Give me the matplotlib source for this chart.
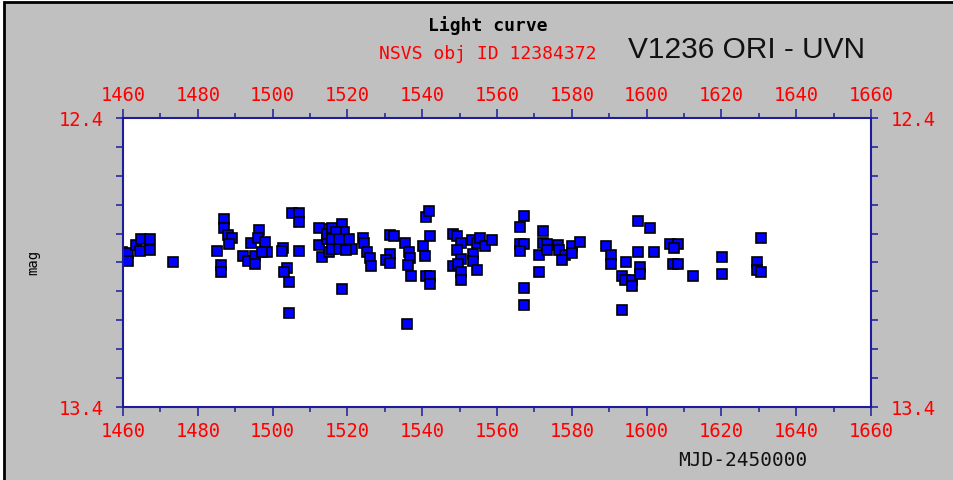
import matplotlib.pyplot as plt
from matplotlib.patches import Rectangle
from matplotlib.ticker import MultipleLocator, FixedLocator

mjd = [1459.8, 1461.3, 1461.3, 1463.5, 1464.8, 1464.5, 1467.2, 1467.2, 1473.4,
       1485.1, 1486.2, 1486.2, 1487.0, 1487.0, 1488.1, 1489.1, 1488.3,
       1496.4, 1494.2, 1496.1, 1498.0, 1498.5, 1492.1, 1493.4, 1495.3, 1495.3, 1497.2,
       1502.8, 1502.5, 1507.1, 1503.9, 1503.0, 1504.4, 1504.4, 1505.2, 1507.1, 1507.1,
       1512.4, 1515.1, 1512.4, 1514.5, 1513.2, 1515.1, 1514.5, 1515.9, 1518.6, 1519.1,
       1517.0, 1515.9, 1517.8, 1520.4, 1515.9, 1517.8, 1521.2, 1519.6,
       1524.2, 1524.4, 1525.2, 1526.0, 1526.3, 1518.6,
       1531.4, 1532.5, 1531.4, 1530.3, 1531.4,
       1535.4, 1536.5, 1536.7, 1536.2, 1537.0, 1535.9,
       1541.0, 1541.8, 1542.1, 1540.2, 1540.7, 1541.0, 1542.1, 1542.1,
       1548.2, 1549.3, 1550.4, 1549.3, 1550.4, 1548.2, 1549.6, 1550.4, 1550.4,
       1553.3, 1554.7, 1555.5, 1556.8, 1558.7, 1553.6, 1553.6, 1554.7,
       1567.2, 1566.1, 1566.1, 1567.2, 1566.1, 1567.2, 1567.2,
       1572.3, 1572.3, 1571.2, 1571.2, 1573.4, 1573.4,
       1576.3, 1576.6, 1578.2, 1577.4, 1580.1, 1580.1, 1582.2,
       1589.1, 1590.5, 1590.5, 1594.5, 1593.4, 1594.2, 1596.1, 1596.1,
       1598.2, 1598.2, 1597.7, 1597.7, 1600.9, 1593.4, 1602.0,
       1606.3, 1608.4, 1607.3, 1607.1, 1608.4, 1612.4,
       1620.2, 1620.2, 1630.6, 1629.5, 1629.5, 1630.6]
mag = [12.864, 12.867, 12.895, 12.839, 12.819, 12.860, 12.819, 12.857, 12.898,
       12.860, 12.909, 12.933, 12.749, 12.781, 12.805, 12.815, 12.836,
       12.788, 12.833, 12.815, 12.829, 12.864, 12.878, 12.895, 12.878, 12.905, 12.864,
       12.850, 12.860, 12.860, 12.919, 12.933, 12.967, 13.075, 12.729, 12.729, 12.760,
       12.781, 12.784, 12.839, 12.819, 12.881, 12.864, 12.801, 12.781, 12.767, 12.794,
       12.794, 12.819, 12.819, 12.819, 12.853, 12.853, 12.853, 12.857,
       12.815, 12.833, 12.864, 12.884, 12.912, 12.992,
       12.805, 12.808, 12.871, 12.891, 12.902,
       12.833, 12.864, 12.884, 12.909, 12.947, 13.113,
       12.743, 12.722, 12.808, 12.843, 12.878, 12.947, 12.947, 12.974,
       12.801, 12.808, 12.833, 12.857, 12.888, 12.912, 12.905, 12.933, 12.961,
       12.822, 12.833, 12.815, 12.843, 12.822, 12.871, 12.895, 12.926,
       12.739, 12.777, 12.836, 12.836, 12.860, 12.988, 13.047,
       12.791, 12.833, 12.874, 12.933, 12.836, 12.857,
       12.839, 12.857, 12.874, 12.891, 12.843, 12.867, 12.829,
       12.843, 12.874, 12.905, 12.898, 12.947, 12.961, 12.961, 12.981,
       12.916, 12.940, 12.864, 12.756, 12.781, 13.064, 12.864,
       12.836, 12.836, 12.850, 12.905, 12.905, 12.947,
       12.881, 12.940, 12.815, 12.898, 12.926, 12.933]

x_ticks = [1460, 1480, 1500, 1520, 1540, 1560, 1580, 1600, 1620, 1640, 1660]
y_ticks = [12.4, 13.4]

GRIS = '#c0c0c0'
AZUL_EJE = '#1c1c9c'
MONO = 'DejaVu Sans Mono'

fig = plt.figure(figsize=(9.54, 4.81), dpi=100, facecolor='white')

# Marco gris con borde negro (arriba e izquierda)
fondo = Rectangle((0.0042, -0.05), 1.1, 0.9938 + 0.05, transform=fig.transFigure,
                  facecolor=GRIS, edgecolor='black', linewidth=2, zorder=-10)
fig.patches.append(fondo)

ax = fig.add_axes([0.1289, 0.1518, 0.7841, 0.6008])
ax.set_facecolor('white')

ax.plot(mjd, mag, linestyle='none', marker='s', markersize=6.8,
        markerfacecolor='#0000ff', markeredgecolor='black', markeredgewidth=1.2)

ax.set_xlim(1460, 1660)
ax.set_ylim(13.4, 12.4)

ax.set_xticks(x_ticks)
ax.set_xticklabels([str(t) for t in x_ticks])
ax.xaxis.set_minor_locator(MultipleLocator(10))
ax.set_yticks(y_ticks)
ax.set_yticklabels([f"{t:.1f}" for t in y_ticks])
ax.yaxis.set_minor_locator(FixedLocator([12.5, 12.6, 12.7, 12.8, 12.9, 13.0, 13.1, 13.2, 13.3]))

for s in ax.spines.values():
    s.set_color(AZUL_EJE)
    s.set_linewidth(1.5)

ax.tick_params(axis='x', which='both', top=True, bottom=True, labeltop=True,
               labelbottom=True, direction='out', color=AZUL_EJE, width=1.1)
ax.tick_params(axis='x', which='major', length=6.5, pad=3.5)
ax.tick_params(axis='x', which='minor', length=3.6)
ax.tick_params(axis='y', which='both', left=True, right=True, labelleft=True,
               labelright=True, direction='out', color=AZUL_EJE, width=1.1,
               length=5, pad=9)

for lbl in ax.get_xticklabels() + ax.get_yticklabels():
    lbl.set_color('red')
    lbl.set_family(MONO)
    lbl.set_fontsize(13.5)

# Textos de la figura
fig.text(0.5115, 0.948, 'Light curve', ha='center', va='center',
         family=MONO, fontweight='bold', fontsize=13, color='black')
fig.text(0.511, 0.888, 'NSVS obj ID 12384372', ha='center', va='center',
         family=MONO, fontsize=13, color='red')
fig.text(0.658, 0.896, 'V1236 ORI - UVN', ha='left', va='center',
         family='Liberation Sans', fontsize=21.5, color='#111111')
fig.text(0.035, 0.455, 'mag', ha='center', va='center', rotation=90,
         family=MONO, fontsize=10, color='black')
fig.text(0.779, 0.0416, 'MJD-2450000', ha='center', va='center',
         family=MONO, fontsize=14, color='#111111')

fig.savefig('out.png', dpi=100, facecolor=fig.get_facecolor())
